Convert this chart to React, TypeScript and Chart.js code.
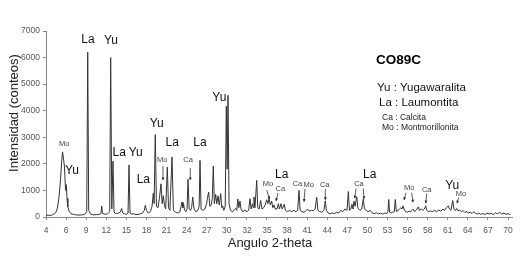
import React, { useEffect, useRef } from "react";
import { Chart, registerables } from "chart.js";

Chart.register(...registerables);

const FONT = '"Liberation Sans", Arial, sans-serif';

const X_TICK_VALUES = [
  4, 6.87, 9.74, 12.61, 15.48, 18.35, 21.22, 24.09, 26.96, 29.83, 32.7, 35.57,
  38.43, 41.3, 44.17, 47.04, 49.91, 52.78, 55.65, 58.52, 61.39, 64.26, 67.13, 70,
];
const X_TICK_LABELS = [
  "4", "6", "9", "12", "15", "18", "21", "24", "27", "30", "32", "35",
  "38", "41", "44", "47", "50", "53", "56", "58", "61", "64", "67", "70",
];
const Y_MAX = 7000;
const Y_STEP = 1000;

const X_TITLE = "Angulo 2-theta";
const Y_TITLE = "Intensidad (conteos)";

// [2-theta, counts]
const PATTERN: [number, number][] = [
  [4.0, 60], [4.3, 70], [4.6, 55], [4.9, 80], [5.1, 100], [5.3, 140], [5.5, 220],
  [5.65, 380], [5.86, 750], [6.07, 1380], [6.24, 2100], [6.36, 2450], [6.48, 2250],
  [6.64, 1880], [6.79, 1000], [6.9, 1220], [7.0, 700], [7.12, 380], [7.3, 220],
  [7.55, 130], [7.9, 100], [8.3, 80], [8.7, 70], [9.1, 80], [9.5, 90], [9.82, 200],
  [9.96, 6200], [10.1, 250], [10.4, 100], [10.8, 80], [11.2, 90], [11.6, 100],
  [11.85, 130], [11.96, 410], [12.07, 130], [12.4, 100], [12.8, 120], [13.1, 200],
  [13.24, 6000], [13.4, 300], [13.57, 2100], [13.72, 200], [13.9, 120], [14.1, 150],
  [14.3, 130], [14.6, 180], [14.81, 320], [14.95, 150], [15.2, 120], [15.5, 100],
  [15.72, 150], [15.86, 1960], [16.0, 150], [16.25, 100], [16.43, 130], [16.7, 100],
  [17.0, 90], [17.4, 110], [17.8, 150], [18.05, 250], [18.19, 440], [18.35, 250],
  [18.6, 150], [18.9, 200], [19.15, 400], [19.33, 900], [19.45, 500], [19.61, 3100],
  [19.78, 400], [20.0, 350], [20.2, 700], [20.43, 1250], [20.6, 500], [20.76, 800],
  [20.95, 400], [21.1, 300], [21.33, 1880], [21.5, 350], [21.7, 250], [22.0, 2260],
  [22.2, 250], [22.5, 180], [22.8, 150], [23.1, 180], [23.3, 400], [23.43, 560],
  [23.55, 350], [23.65, 500], [23.8, 250], [24.0, 200], [24.15, 300], [24.29, 1420],
  [24.45, 300], [24.65, 250], [24.8, 350], [24.96, 750], [25.15, 300], [25.4, 200],
  [25.7, 250], [25.88, 400], [26.0, 2130], [26.15, 300], [26.4, 250], [26.7, 300],
  [26.95, 500], [27.05, 700], [27.24, 940], [27.4, 400], [27.6, 450], [27.75, 700],
  [27.9, 1920], [28.05, 500], [28.24, 850], [28.4, 500], [28.57, 800], [28.75, 450],
  [28.96, 880], [29.1, 350], [29.24, 420], [29.4, 250], [29.6, 400], [29.76, 4170],
  [29.88, 1800], [30.0, 4580], [30.15, 500], [30.35, 250], [30.6, 200], [30.85, 250],
  [31.1, 320], [31.25, 250], [31.4, 680], [31.55, 350], [31.71, 600], [31.85, 300],
  [32.1, 200], [32.4, 250], [32.7, 200], [32.95, 250], [33.14, 690], [33.3, 300],
  [33.5, 500], [33.6, 350], [33.71, 750], [33.85, 350], [34.1, 1380], [34.25, 350],
  [34.45, 300], [34.67, 620], [34.85, 300], [35.1, 350], [35.3, 450], [35.53, 650],
  [35.7, 500], [35.86, 700], [36.05, 450], [36.24, 600], [36.4, 350], [36.57, 450],
  [36.75, 300], [37.0, 300], [37.19, 500], [37.35, 300], [37.57, 500], [37.75, 300],
  [38.04, 480], [38.2, 250], [38.5, 200], [38.8, 250], [39.1, 200], [39.4, 250],
  [39.7, 200], [39.95, 250], [40.14, 1000], [40.3, 250], [40.55, 200], [40.86, 180],
  [41.1, 230], [41.35, 300], [41.6, 220], [41.9, 250], [42.2, 230], [42.45, 300],
  [42.67, 740], [42.85, 250], [43.1, 200], [43.4, 180], [43.7, 250], [43.9, 610],
  [44.05, 250], [44.3, 150], [44.6, 120], [44.9, 150], [45.2, 130], [45.5, 180],
  [45.8, 150], [46.1, 250], [46.4, 200], [46.7, 300], [47.0, 250], [47.19, 960],
  [47.35, 250], [47.55, 300], [47.71, 480], [47.85, 300], [48.0, 600], [48.15, 400],
  [48.39, 760], [48.55, 350], [48.67, 300], [48.85, 250], [49.1, 300], [49.33, 680],
  [49.5, 300], [49.75, 250], [50.0, 200], [50.29, 250], [50.6, 150], [50.9, 130],
  [51.2, 160], [51.5, 120], [51.8, 140], [52.1, 110], [52.4, 150], [52.7, 130],
  [52.85, 200], [52.96, 660], [53.08, 180], [53.3, 150], [53.55, 180], [53.75, 200],
  [53.9, 660], [54.05, 200], [54.3, 250], [54.5, 300], [54.7, 350], [54.85, 300],
  [55.0, 420], [55.15, 300], [55.35, 200], [55.6, 180], [55.85, 220], [56.1, 200],
  [56.3, 250], [56.47, 300], [56.65, 200], [56.85, 250], [57.0, 300], [57.19, 380],
  [57.35, 250], [57.6, 300], [57.85, 250], [58.05, 300], [58.24, 420], [58.4, 250],
  [58.65, 200], [58.9, 230], [59.2, 200], [59.5, 250], [59.8, 200], [60.1, 260],
  [60.4, 220], [60.7, 300], [60.95, 250], [61.2, 350], [61.47, 420], [61.65, 300],
  [61.85, 250], [62.1, 620], [62.3, 280], [62.5, 250], [62.67, 320], [62.85, 230],
  [63.1, 260], [63.35, 200], [63.6, 240], [63.85, 170], [64.1, 200], [64.35, 150],
  [64.6, 180], [64.85, 130], [65.1, 200], [65.35, 140], [65.6, 110], [65.85, 150],
  [66.1, 100], [66.4, 130], [66.7, 90], [67.0, 150], [67.3, 110], [67.6, 140],
  [67.9, 90], [68.2, 160], [68.5, 120], [68.8, 180], [69.1, 110], [69.4, 150],
  [69.7, 100], [70.0, 130], [70.3, 80],
];

// Phase labels placed at [2-theta, counts]
const BIG_LABELS: [string, number, number][] = [
  ["Yu", 7.71, 1731], ["La", 10.0, 6661], ["Yu", 13.29, 6623], ["La", 14.47, 2420],
  ["Yu", 16.81, 2420], ["La", 17.9, 1419], ["Yu", 19.81, 3526], ["La", 22.04, 2796],
  ["La", 26.0, 2796], ["Yu", 28.76, 4504], ["La", 37.67, 1607], ["La", 50.24, 1607],
  ["Yu", 62.04, 1193],
];
const SMALL_LABELS: [string, number, number][] = [
  ["Mo", 6.61, 2758], ["Mo", 20.61, 2156], ["Ca", 24.29, 2134], ["Mo", 35.71, 1230],
  ["Ca", 37.47, 1042], ["Ca", 39.9, 1230], ["Mo", 41.53, 1193], ["Ca", 43.81, 1193],
  ["Ca", 48.71, 1230], ["Mo", 55.9, 1103], ["Ca", 58.39, 1016], ["Mo", 63.29, 854],
];
// arrows [x1, y1, x2, y2] in data units (tip at x2,y2)
const ARROWS: [number, number, number, number][] = [
  [20.71, 1919, 20.71, 1392], [24.61, 1844, 24.61, 1392], [35.53, 1016, 35.93, 677],
  [37.14, 903, 36.86, 602], [41.0, 1054, 40.86, 576], [43.9, 1054, 43.9, 640],
  [48.29, 1072, 48.1, 704], [49.33, 1072, 49.43, 677], [55.43, 914, 55.14, 640],
  [56.24, 914, 56.43, 553], [58.39, 884, 58.24, 516], [62.96, 734, 62.71, 516],
];

const SAMPLE_NAME = "CO89C";
const LEGEND_BIG = ["Yu : Yugawaralita", "La : Laumontita"];
const LEGEND_SMALL = ["Ca : Calcita", "Mo : Montmorillonita"];

const overlayPlugin = {
  id: "xrdOverlay",
  afterDatasetsDraw(chart: any) {
    const ctx: CanvasRenderingContext2D = chart.ctx;
    const xs = chart.scales.x;
    const ys = chart.scales.y;
    ctx.save();
    ctx.textAlign = "center";
    ctx.textBaseline = "middle";

    ctx.fillStyle = "#111";
    ctx.font = `12px ${FONT}`;
    BIG_LABELS.forEach(([t, x, y]) => {
      ctx.fillText(t, xs.getPixelForValue(x), ys.getPixelForValue(y));
    });
    ctx.fillStyle = "#444";
    ctx.font = `7.5px ${FONT}`;
    SMALL_LABELS.forEach(([t, x, y]) => {
      ctx.fillText(t, xs.getPixelForValue(x), ys.getPixelForValue(y));
    });

    ctx.strokeStyle = "#333";
    ctx.fillStyle = "#222";
    ctx.lineWidth = 0.8;
    ARROWS.forEach(([x1, y1, x2, y2]) => {
      const px1 = xs.getPixelForValue(x1);
      const py1 = ys.getPixelForValue(y1);
      const px2 = xs.getPixelForValue(x2);
      const py2 = ys.getPixelForValue(y2);
      const ang = Math.atan2(py2 - py1, px2 - px1);
      ctx.beginPath();
      ctx.moveTo(px1, py1);
      ctx.lineTo(px2, py2);
      ctx.stroke();
      const h = 3;
      ctx.beginPath();
      ctx.moveTo(px2, py2);
      ctx.lineTo(px2 - h * Math.cos(ang - 0.5), py2 - h * Math.sin(ang - 0.5));
      ctx.lineTo(px2 - h * Math.cos(ang + 0.5), py2 - h * Math.sin(ang + 0.5));
      ctx.closePath();
      ctx.fill();
    });

    // sample name & legend
    ctx.textAlign = "left";
    ctx.fillStyle = "#000";
    ctx.font = `bold 13.5px ${FONT}`;
    ctx.fillText(SAMPLE_NAME, 376, 60.5);
    ctx.font = `11.5px ${FONT}`;
    ctx.fillStyle = "#111";
    ctx.fillText(LEGEND_BIG[0], 377, 88);
    ctx.fillText(LEGEND_BIG[1], 379, 103);
    ctx.font = `8.5px ${FONT}`;
    ctx.fillStyle = "#222";
    ctx.fillText(LEGEND_SMALL[0], 382, 118);
    ctx.fillText(LEGEND_SMALL[1], 382, 128);

    // axis titles
    ctx.fillStyle = "#222";
    ctx.font = `13px ${FONT}`;
    ctx.textAlign = "center";
    ctx.fillText(X_TITLE, 270, 243);
    ctx.translate(14, 113);
    ctx.rotate(-Math.PI / 2);
    ctx.fillText(Y_TITLE, 0, 0);
    ctx.restore();
  },
};

export default function App() {
  const ref = useRef<HTMLCanvasElement | null>(null);
  useEffect(() => {
    if (!ref.current) return;
    const chart = new Chart(ref.current, {
      type: "line",
      data: {
        datasets: [
          {
            data: PATTERN.map(([x, y]) => ({ x, y })),
            borderColor: "#333",
            borderWidth: 1,
            pointRadius: 0,
            tension: 0,
            fill: false,
          },
        ],
      },
      options: {
        animation: false,
        responsive: false,
        devicePixelRatio: 1,
        layout: { padding: { left: 0, top: 31, right: 18, bottom: 0 } },
        plugins: { legend: { display: false }, tooltip: { enabled: false }, title: { display: false } },
        scales: {
          x: {
            type: "linear",
            min: 4,
            max: 70.57,
            afterBuildTicks: (scale: any) => {
              scale.ticks = X_TICK_VALUES.map((v) => ({ value: v }));
            },
            afterFit: (scale: any) => {
              scale.height = 39;
            },
            ticks: {
              autoSkip: false,
              maxRotation: 0,
              padding: 6,
              color: "#555",
              font: { family: FONT, size: 8.5 },
              callback: (_v: any, i: number) => X_TICK_LABELS[i],
            },
            grid: { display: true, drawOnChartArea: false, drawTicks: true, tickLength: 3, color: "#888" },
            border: { display: true, color: "#888" },
          },
          y: {
            min: 0,
            max: Y_MAX,
            afterFit: (scale: any) => {
              scale.width = 46;
            },
            ticks: {
              stepSize: Y_STEP,
              padding: 3,
              color: "#555",
              font: { family: FONT, size: 8.5 },
              callback: (v: any) => String(v),
            },
            grid: { display: true, drawOnChartArea: false, drawTicks: true, tickLength: 3, color: "#888" },
            border: { display: true, color: "#888" },
          },
        },
      },
      plugins: [overlayPlugin],
    });
    return () => chart.destroy();
  }, []);
  return (
    <canvas
      ref={ref}
      width={530}
      height={256}
      style={{ position: "absolute", left: 0, top: 0, width: 530, height: 256, background: "#fff" }}
    />
  );
}
